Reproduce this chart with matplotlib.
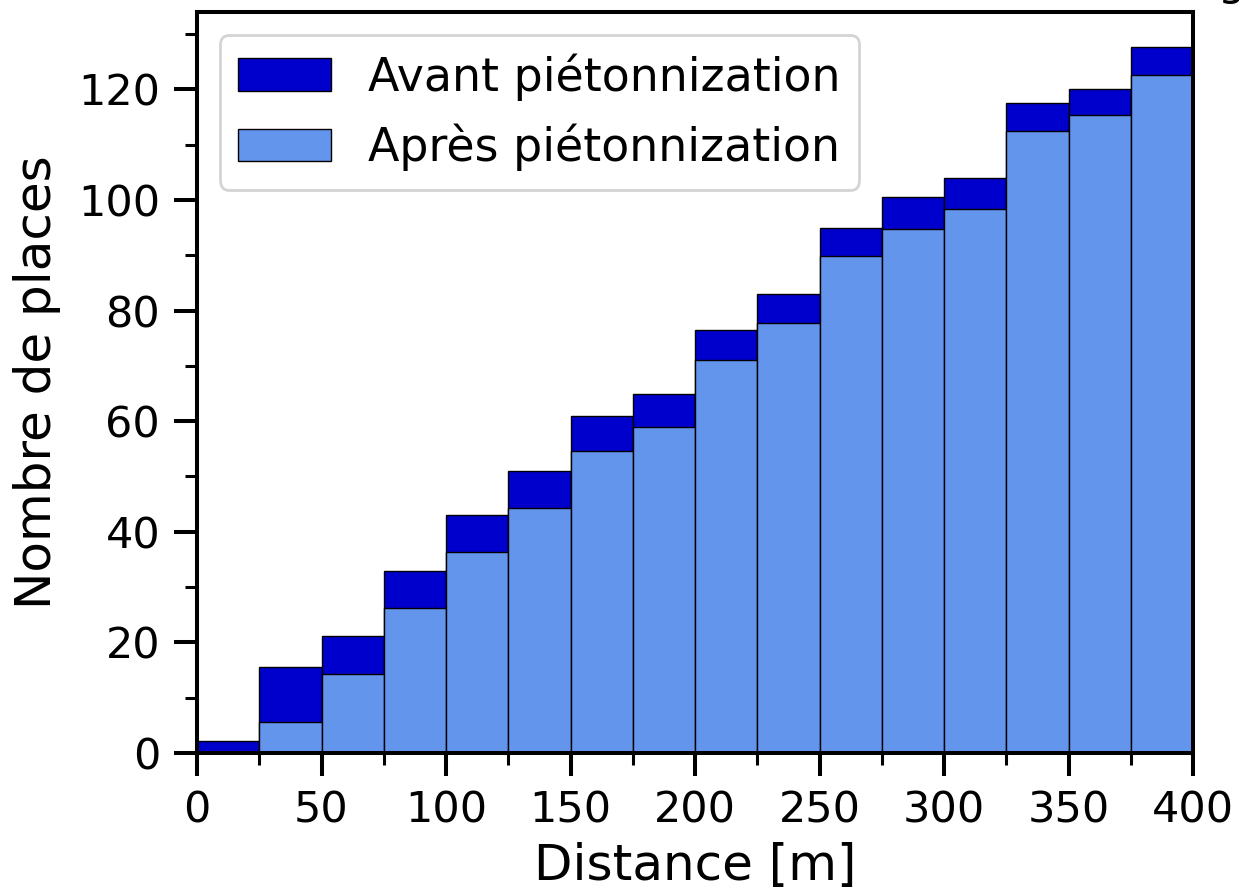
import matplotlib
matplotlib.use("Agg")
import matplotlib.pyplot as plt
from matplotlib.ticker import MultipleLocator

bin_edges = [0, 25, 50, 75, 100, 125, 150, 175, 200, 225, 250, 275, 300, 325, 350, 375]
bin_width = 25
avant = [2.2, 15.5, 21.1, 33, 43, 51, 61, 65, 76.5, 83, 95, 100.5, 104, 117.5, 120, 127.7]
apres = [0, 5.6, 14.3, 26.3, 36.3, 44.3, 54.7, 59, 71, 77.7, 89.8, 94.8, 98.4, 112.5, 115.3, 122.6]
labels = ["Avant piétonnization", "Après piétonnization"]
colors = ["#0000CD", "#6495ED"]

fig = plt.figure(figsize=(12.39, 8.89), dpi=100)
ax = fig.add_axes([0.159, 0.153, 0.804, 0.8335])

ax.bar(bin_edges, avant, width=bin_width, align="edge", color=colors[0],
       edgecolor="black", linewidth=1.0, label=labels[0])
ax.bar(bin_edges, apres, width=bin_width, align="edge", color=colors[1],
       edgecolor="black", linewidth=1.0, label=labels[1])

ax.set_xlim(0, 400)
ax.set_ylim(0, 134)
ax.xaxis.set_major_locator(MultipleLocator(50))
ax.xaxis.set_minor_locator(MultipleLocator(25))
ax.yaxis.set_major_locator(MultipleLocator(20))
ax.yaxis.set_minor_locator(MultipleLocator(10))

for s in ax.spines.values():
    s.set_linewidth(2.9)
ax.tick_params(which="major", length=16.5, width=2.9, labelsize=31, pad=10)
ax.tick_params(which="minor", length=8.5, width=2.2)

ax.set_xlabel("Distance [m]", fontsize=36, labelpad=7)
ax.set_ylabel("Nombre de places", fontsize=36, labelpad=12)

leg = ax.legend(loc="upper left", fontsize=33, handlelength=2.03, handleheight=0.72,
                borderaxespad=0.5, frameon=True, fancybox=True, framealpha=1,
                handletextpad=0.8, labelspacing=0.5)
leg.get_frame().set_edgecolor("#d4d4d4")
leg.get_frame().set_linewidth(2.0)

fig.text(0.9935, 1.006, "g", fontsize=31, ha="center", va="baseline")

fig.savefig("out.png", dpi=100)
